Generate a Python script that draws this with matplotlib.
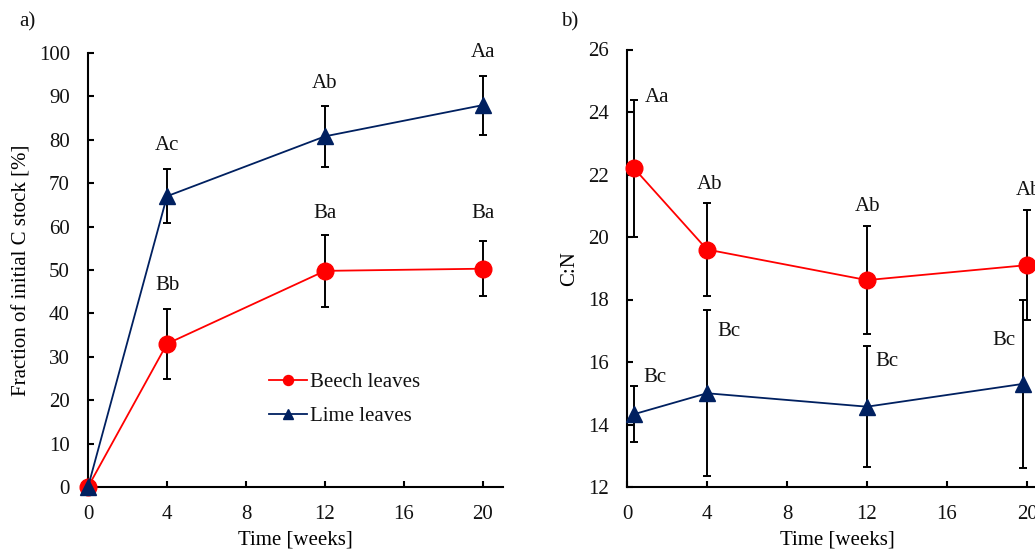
import matplotlib
matplotlib.use("Agg")
import matplotlib.pyplot as plt

# ---- data -------------------------------------------------------------
weeks = [0, 4, 12, 20]

# a) fraction of initial C stock [%]
beech_c = [0.0, 33.0, 49.8, 50.3]
beech_c_err = [0.0, 8.0, 8.3, 6.4]
lime_c = [0.0, 67.0, 80.8, 88.0]
lime_c_err = [0.0, 6.2, 7.1, 6.8]
letters_a_beech = ["", "Bb", "Ba", "Ba"]
letters_a_lime = ["", "Ac", "Ab", "Aa"]

# b) C:N ratio
beech_cn_x = [0.35, 4, 12, 20]
beech_cn = [22.2, 19.6, 18.62, 19.1]
beech_cn_err = [2.2, 1.5, 1.72, 1.77]
lime_cn_x = [0.35, 4, 12, 19.8]
lime_cn = [14.33, 15.0, 14.57, 15.3]
lime_cn_err = [0.9, 2.66, 1.93, 2.7]
letters_b_beech = ["Aa", "Ab", "Ab", "Ab"]
letters_b_lime = ["Bc", "Bc", "Bc", "Bc"]

x_ticks = [0, 4, 8, 12, 16, 20]
y_ticks_a = list(range(0, 101, 10))
y_ticks_b = list(range(12, 27, 2))

# ---- style ------------------------------------------------------------
RED = "#FF0000"
NAVY = "#002060"
TXT = "#111111"
FS = 15
plt.rcParams["font.family"] = ["Liberation Serif", "DejaVu Serif"]
plt.rcParams["text.color"] = TXT

W, H = 1035, 551
fig = plt.figure(figsize=(W / 100, H / 100), dpi=100)


def px_axes(left, top, right, bottom):
    return fig.add_axes([left / W, 1 - bottom / H, (right - left) / W, (bottom - top) / H])


def style_axes(ax, yticks, ylim):
    ax.set_xlim(0, 21)
    ax.set_ylim(*ylim)
    for s in ("top", "right"):
        ax.spines[s].set_visible(False)
    for s in ("left", "bottom"):
        ax.spines[s].set_linewidth(1.5)
        ax.spines[s].set_color("black")
    ax.set_xticks(x_ticks)
    ax.set_yticks(yticks)
    ax.tick_params(direction="in", length=4.5, width=1.5, labelsize=FS,
                   pad=13, colors="black", labelcolor=TXT)


def draw_series(ax, x, y, err, color, marker, ms, label):
    ax.errorbar(x, y, yerr=err, fmt="none", ecolor="black", elinewidth=1.4,
                capsize=3, capthick=1.4, zorder=2)
    ax.plot(x, y, color=color, marker=marker, markersize=ms, lw=1.3,
            zorder=3, clip_on=False, label=label)


# ---- panel a ----------------------------------------------------------
axA = px_axes(88, 53, 88 + 21 * 19.75, 487)
style_axes(axA, y_ticks_a, (0, 100))
draw_series(axA, weeks, beech_c, beech_c_err, RED, "o", 12, "Beech leaves")
draw_series(axA, weeks, lime_c, lime_c_err, NAVY, "^", 11.5, "Lime leaves")

lbl_a_beech_y = [None, 46.4, 63.0, 63.1]
lbl_a_lime_y = [None, 78.8, 92.9, 100.1]
for xi, s, yy in zip(weeks, letters_a_beech, lbl_a_beech_y):
    if s:
        axA.text(xi, yy, s, ha="center", va="center", fontsize=FS)
for xi, s, yy in zip(weeks, letters_a_lime, lbl_a_lime_y):
    if s:
        axA.text(xi, yy, s, ha="center", va="center", fontsize=FS)

axA.set_ylabel("Fraction of initial C stock [%]", fontsize=FS)
axA.yaxis.set_label_coords(-0.16, 0.5)
axA.yaxis.label.set_va("center")
axA.set_xlabel("Time [weeks]", fontsize=FS)
axA.xaxis.set_label_coords(0.5, -0.122)
axA.xaxis.label.set_va("center")

axA.legend(loc="upper left", bbox_to_anchor=(0.436, 0.263), frameon=False,
           fontsize=FS, handlelength=1.83, handletextpad=0.15,
           labelspacing=0.68, borderpad=0, borderaxespad=0, markerscale=0.6)

# ---- panel b ----------------------------------------------------------
axB = px_axes(627, 49.5, 627 + 21 * 20, 487)
style_axes(axB, y_ticks_b, (12, 26))
draw_series(axB, beech_cn_x, beech_cn, beech_cn_err, RED, "o", 12, "Beech leaves")
draw_series(axB, lime_cn_x, lime_cn, lime_cn_err, NAVY, "^", 11.5, "Lime leaves")

lbl_b_beech_pos = [(1.48, 24.48), (4.15, 21.68), (12.03, 20.97), (20.1, 21.48)]
lbl_b_lime_pos = [(1.4, 15.5), (5.1, 16.96), (12.98, 16.0), (18.85, 16.7)]
for s, (xx, yy) in zip(letters_b_beech, lbl_b_beech_pos):
    axB.text(xx, yy, s, ha="center", va="center", fontsize=FS)
for s, (xx, yy) in zip(letters_b_lime, lbl_b_lime_pos):
    axB.text(xx, yy, s, ha="center", va="center", fontsize=FS)

axB.set_ylabel("C:N", fontsize=FS)
axB.yaxis.set_label_coords(-0.136, 0.5)
axB.yaxis.label.set_va("center")
axB.set_xlabel("Time [weeks]", fontsize=FS)
axB.xaxis.set_label_coords(0.5, -0.122)
axB.xaxis.label.set_va("center")

# panel tags
fig.text(27 / W, 1 - 21.7 / H, "a)", ha="center", va="center", fontsize=FS)
fig.text(570 / W, 1 - 21.7 / H, "b)", ha="center", va="center", fontsize=FS)

fig.savefig("out.png", dpi=100)
